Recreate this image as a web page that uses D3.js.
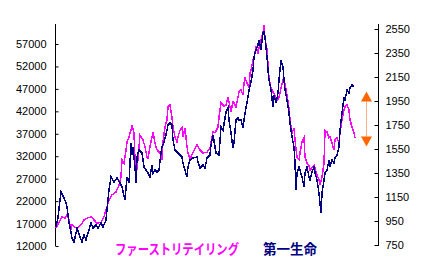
<!DOCTYPE html>
<html><head><meta charset="utf-8">
<script src="https://cdn.jsdelivr.net/npm/d3@7"></script>
<style>html,body{margin:0;padding:0;background:#fff;}</style>
</head><body>
<svg id="c" width="426" height="270"></svg>
<script>
// ファーストリテイリング (left axis, yen) — sample index and price
const frIdx = [1,4,7,10,12,14,16,17,20,22,26,29,32,36,39,42,46,49,51,54,57,61,64,66,67,69,71,72,74,76,77,79,80,82,85,88,90,92,93,95,98,100,102,105,107,108,110,112,113,115,117,118,120,122,123,125,127,128,130,132,133,135,138,142,145,148,152,155,158,160,163,164,166,168,169,171,173,174,176,178,179,181,183,184,186,188,189,190,192,194,195,196,198,199,201,203,204,206,208,209,210,212,214,216,218,220,222,224,226,228,230,232,234,235,237,239,240,242,244,245,247,249,250,252,254,255,257,259,260,262,264,265,267,269,270,272,274,275,277,279,280,282,284,285,287,289,290,292,294,295,297,299,300];
const frVal = [16000,17300,18500,18200,18900,17800,15600,16700,16200,16000,16700,17800,18200,18500,17800,17100,17300,18500,20000,22200,23400,24000,25600,27400,31200,30500,33400,35200,36300,37800,39000,37200,31200,28900,36700,35600,34100,31800,31600,34100,37400,34900,33400,32700,31200,35200,38500,40100,43000,43400,40700,38500,36300,35200,36300,37800,38300,36300,38300,34100,32700,31200,32900,34500,33400,32700,32900,33800,37400,37200,38500,40700,43900,43400,43000,43400,45000,44100,41900,44100,43900,43000,45200,46300,46800,45600,48300,49400,48300,47200,50500,51200,53400,54100,56300,55000,56100,57900,59500,61200,58300,55700,49400,47200,46300,45600,44500,45000,47200,49000,48100,45600,42700,40100,37200,38300,35600,31800,31200,32700,35200,36100,31800,30500,30000,28900,29400,30000,29400,27800,26700,25600,27400,30500,37800,37400,36100,36300,34900,33400,35600,36100,34900,37200,40100,42300,43000,43400,42300,40100,38500,37200,36100];

// 第一生命 (right axis, yen)
const dlIdx = [1,3,5,6,8,9,11,12,14,16,17,19,21,22,25,27,29,31,33,36,38,41,43,46,48,51,52,54,56,59,62,65,67,70,72,74,76,77,78,80,81,82,84,87,89,91,93,95,97,98,100,102,104,106,107,109,111,113,115,117,118,120,122,123,125,127,128,130,132,133,135,138,142,143,145,148,150,152,155,156,158,161,164,166,168,171,173,174,176,178,179,181,183,184,186,188,189,191,193,194,196,198,199,201,203,204,206,208,209,210,212,213,214,216,218,219,221,223,224,226,228,229,230,232,234,235,237,239,240,241,242,244,245,247,249,250,252,254,255,257,259,260,262,264,265,266,267,269,270,272,274,275,277,279,280,282,284,285,287,289,290,292,294,295,297,299,300];
const dlVal = [900,980,1125,1192,1158,1142,1100,1067,933,858,808,775,850,892,817,775,833,792,850,933,892,917,892,933,900,958,1042,1208,1317,1275,1308,1267,1233,1125,1317,1267,1600,1500,1567,1400,1267,1483,1542,1517,1400,1375,1350,1317,1417,1350,1375,1358,1375,1517,1567,1608,1667,1750,1767,1750,1625,1542,1525,1517,1500,1483,1433,1375,1317,1400,1458,1475,1483,1442,1392,1417,1392,1475,1500,1583,1667,1517,1500,1733,1708,1858,1892,1792,1683,1558,1600,1792,1808,1792,1792,1725,1792,1892,1983,2042,2108,2208,2317,2375,2417,2458,2375,2517,2525,2483,2317,2208,2125,2042,1900,2000,1933,2017,2125,2292,2233,2125,2042,1958,1850,1767,1650,1567,1433,1208,1350,1400,1375,1317,1233,1350,1400,1317,1292,1358,1400,1350,1292,1183,1100,1017,1183,1292,1350,1375,1458,1400,1458,1433,1475,1500,1567,1708,1850,1983,1958,2042,2017,2058,2083,2067];

const leftTicks = [12000,17000,22000,27000,32000,37000,42000,47000,52000,57000];
const rightTicks = [750,950,1150,1350,1550,1750,1950,2150,2350,2550];
const legendNames = ["ファーストリテイリング","第一生命"];
const arrowRange = [2030,1570]; // annotation range on right axis

const svg = d3.select("#c");
const x = d3.scaleLinear().domain([0,300]).range([55,355]);
const yL = d3.scaleLinear().domain([12000,57000]).range([246,44]);
const yR = d3.scaleLinear().domain([750,2550]).range([245,29]);

const MAG = "#ff00ff", NAVY = "#000080", ORANGE = "#ff6600";

// axes
const axL = svg.append("g").attr("transform","translate(55.5,0)")
  .call(d3.axisRight(yL).tickValues(leftTicks).tickSize(3).tickFormat(d3.format("d")).tickSizeOuter(0));
axL.select(".domain").remove();
axL.selectAll(".tick text").attr("x",-9).attr("text-anchor","end");
svg.append("line").attr("x1",55.5).attr("x2",55.5).attr("y1",24).attr("y2",246).attr("stroke","#000");

const axR = svg.append("g").attr("transform","translate(378.5,0)")
  .call(d3.axisLeft(yR).tickValues(rightTicks).tickSize(4).tickFormat(d3.format("d")).tickSizeOuter(0));
axR.select(".domain").remove();
axR.selectAll(".tick text").attr("x",7).attr("text-anchor","start");
svg.append("line").attr("x1",378.5).attr("x2",378.5).attr("y1",24).attr("y2",246).attr("stroke","#000");

svg.selectAll(".tick text").attr("font-family","Liberation Sans, Arial, sans-serif").attr("font-size","11px").attr("fill","#000");
svg.selectAll(".tick line").attr("stroke","#000");

// lines
const frData = frIdx.map((d,i)=>[d,frVal[i]]);
const dlData = dlIdx.map((d,i)=>[d,dlVal[i]]);
svg.append("path").datum(frData).attr("fill","none").attr("stroke",MAG).attr("stroke-width",1.5)
  .attr("shape-rendering","crispEdges")
  .attr("d",d3.line().x(d=>x(d[0])).y(d=>yL(d[1])));
svg.append("path").datum(dlData).attr("fill","none").attr("stroke",NAVY).attr("stroke-width",1.5)
  .attr("shape-rendering","crispEdges")
  .attr("d",d3.line().x(d=>x(d[0])).y(d=>yR(d[1])));

// arrow annotation
const ax = 366;
const yTop = yR(arrowRange[0]), yBot = yR(arrowRange[1]);
svg.append("line").attr("x1",ax+0.5).attr("x2",ax+0.5).attr("y1",yTop+10).attr("y2",yBot-10)
  .attr("stroke",ORANGE).attr("stroke-width",1).attr("stroke-dasharray","1,1");
svg.append("path").attr("fill",ORANGE)
  .attr("d",`M${ax+0.5},${yTop} L${ax+6},${yTop+10} L${ax-5},${yTop+10} Z`);
svg.append("path").attr("fill",ORANGE)
  .attr("d",`M${ax+0.5},${yBot} L${ax+6},${yBot-10} L${ax-5},${yBot-10} Z`);

// legend
svg.append("text").attr("x",115).attr("y",254).attr("fill",MAG)
  .attr("font-family","Noto Sans CJK JP").attr("font-weight","bold").attr("font-size","14px")
  .attr("textLength",124).attr("lengthAdjust","spacingAndGlyphs").text(legendNames[0]);
svg.append("text").attr("x",263).attr("y",254).attr("fill",NAVY)
  .attr("font-family","Noto Sans CJK JP").attr("font-weight","bold").attr("font-size","13.5px")
  .attr("textLength",54).attr("lengthAdjust","spacingAndGlyphs").text(legendNames[1]);
</script>
</body></html>
